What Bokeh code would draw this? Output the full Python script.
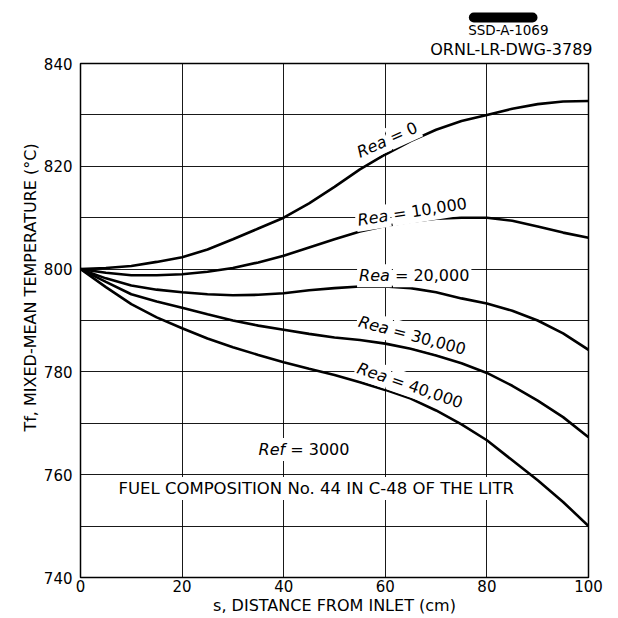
import math
from bokeh.plotting import figure
from bokeh.models import Label, FixedTicker, Title
from bokeh.embed import file_html
from bokeh.resources import INLINE

# ---- data ----
s_cm = [0, 5, 10, 15, 20, 25, 30, 35, 40, 45, 50, 55, 60, 65, 70, 75, 80, 85, 90, 95, 100]
rea_0 = [800.0, 800.2, 800.6, 801.4, 802.3, 803.8, 805.8, 807.9, 810.0, 812.8, 816.0, 819.4, 822.3,
         824.9, 827.1, 828.8, 830.0, 831.2, 832.1, 832.6, 832.7]
rea_10000 = [800.0, 799.3, 798.8, 798.8, 799.0, 799.5, 800.2, 801.3, 802.6, 804.2, 805.8, 807.3, 808.4,
             809.2, 809.8, 810.0, 810.0, 809.4, 808.3, 807.1, 806.1]
rea_20000 = [800.0, 798.2, 796.8, 796.0, 795.5, 795.1, 794.9, 795.0, 795.3, 795.9, 796.3, 796.6, 796.6,
             796.3, 795.5, 794.3, 793.3, 791.9, 790.0, 787.5, 784.3]
rea_30000 = [800.0, 797.5, 795.1, 793.7, 792.5, 791.2, 790.0, 789.0, 788.2, 787.4, 786.7, 786.2, 785.5,
             784.5, 783.2, 781.7, 779.8, 777.3, 774.4, 771.2, 767.3]
rea_40000 = [800.0, 796.5, 793.2, 790.6, 788.5, 786.5, 784.8, 783.3, 781.9, 780.6, 779.4, 778.0, 776.5,
             774.8, 772.5, 769.8, 766.7, 762.8, 758.9, 754.7, 750.0]
series = [rea_0, rea_10000, rea_20000, rea_30000, rea_40000]
curve_values = ["= 0", "= 10,000", "= 20,000", "= 30,000", "= 40,000"]
x_ticks = [0, 20, 40, 60, 80, 100]
y_ticks = [740, 760, 780, 800, 820, 840]
y_grid = [750, 760, 770, 780, 790, 800, 810, 820, 830]
x_grid = [20, 40, 60, 80]

FONT = "DejaVu Sans"
NB = "\u00a0"
W, H = 618, 618
ML, MR, MT, MB = 80, 30, 63, 41
X0, X1, Y0, Y1 = 0, 100, 740, 840

p = figure(width=W, height=H, x_range=(X0, X1), y_range=(Y0, Y1), title=None,
           output_backend="svg", toolbar_location=None,
           min_border_left=ML, min_border_right=MR, min_border_top=MT, min_border_bottom=MB)
p.background_fill_color = "white"
p.border_fill_color = "white"
p.outline_line_color = "black"
p.outline_line_width = 1.5

p.xaxis.ticker = FixedTicker(ticks=x_ticks)
p.yaxis.ticker = FixedTicker(ticks=y_ticks)
p.xgrid.ticker = FixedTicker(ticks=x_grid)
p.ygrid.ticker = FixedTicker(ticks=y_grid)
for g in (p.xgrid, p.ygrid):
    g.grid_line_color = "black"
    g.grid_line_width = 1
    g.grid_line_alpha = 0.9

for ax in (p.xaxis, p.yaxis):
    ax.axis_line_color = None
    ax.major_tick_in = 0
    ax.major_tick_out = 0
    ax.minor_tick_in = 0
    ax.minor_tick_out = 0
    ax.major_label_text_font = FONT
    ax.major_label_text_font_size = "15px"
    ax.major_label_text_color = "black"
    ax.axis_label_text_font = FONT
    ax.axis_label_text_font_size = "16px"
    ax.axis_label_text_font_style = "normal"
    ax.axis_label_text_color = "black"

p.xaxis.axis_label = "s, DISTANCE FROM INLET (cm)"
p.yaxis.axis_label = NB * 13 + "Tf, MIXED-MEAN TEMPERATURE (°C)"
p.xaxis.major_label_standoff = 2
p.xaxis.axis_label_standoff = 1
p.yaxis.major_label_standoff = 8
p.yaxis.axis_label_standoff = 1

for ys in series:
    p.line(s_cm, ys, line_color="black", line_width=2.6)

# approximate DejaVu Sans advance widths (em) for placing the two-part labels
ADV = {"0": 0.636, "1": 0.636, "2": 0.636, "3": 0.636, "4": 0.636, " ": 0.318, "=": 0.838,
       ",": 0.318, "R": 0.695, "e": 0.615, "a": 0.613, "f": 0.352}
def text_w(s, size):
    return sum(ADV.get(c, 0.6) for c in s) * size

px_per_x = (W - ML - MR) / (X1 - X0)
px_per_y = (H - MT - MB) / (Y1 - Y0)

def two_part(cx, cy, ang_deg, italic_part, upright_part, size):
    a = math.radians(ang_deg)
    w1 = text_w(italic_part, size)
    gap = text_w(" ", size)
    w2 = text_w(upright_part, size)
    tot = w1 + gap + w2
    sx = cx - (tot / 2) * math.cos(a) / px_per_x
    sy = cy - (tot / 2) * math.sin(a) / px_per_y
    ux = sx + (w1 + gap) * math.cos(a) / px_per_x
    uy = sy + (w1 + gap) * math.sin(a) / px_per_y
    common = dict(angle=a, text_align="left", text_baseline="middle", text_font=FONT,
                  text_font_size=f"{size}px", text_color="black",
                  background_fill_color="white", padding=2)
    p.add_layout(Label(x=sx, y=sy, text=italic_part, text_font_style="italic", **common))
    p.add_layout(Label(x=ux, y=uy, text=upright_part, **common))

# curve labels: (x, y, angle in degrees)
label_pos = [(60.0, 825.0, 24), (64.9, 811.1, 9), (65.3, 798.7, 0), (64.9, 787.2, -15), (64.5, 777.5, -19)]
for val, (lx, ly, ang) in zip(curve_values, label_pos):
    two_part(lx, ly, ang, "Rea", val, 16)

two_part(43.6, 764.9, 0, "Ref", "= 3000", 16)
p.add_layout(Label(x=46.4, y=757.3, text="FUEL COMPOSITION No. 44 IN C-48 OF THE LITR",
                   text_align="center", text_baseline="middle",
                   text_font=FONT, text_font_size="16.5px", text_color="black",
                   background_fill_color="white", padding=2))

# header texts above the plot (stacked titles; first added is closest to the frame)
p.add_layout(Title(text="ORNL-LR-DWG-3789", align="right", offset=-4, standoff=9,
                   text_font=FONT, text_font_size="16px", text_font_style="normal",
                   text_color="black", text_line_height=1.0), "above")
p.add_layout(Title(text="SSD-A-1069", align="right", offset=40, standoff=-8,
                   text_font=FONT, text_font_size="13.5px", text_font_style="normal",
                   text_color="black", text_line_height=1.0), "above")
p.add_layout(Title(text=NB * 24, align="right", offset=51, standoff=2,
                   text_font=FONT, text_font_size="9px", text_font_style="normal",
                   text_color="black", text_line_height=1.0,
                   background_fill_color="black", border_radius=5), "above")

open("out.html", "w").write(file_html(p, INLINE))
